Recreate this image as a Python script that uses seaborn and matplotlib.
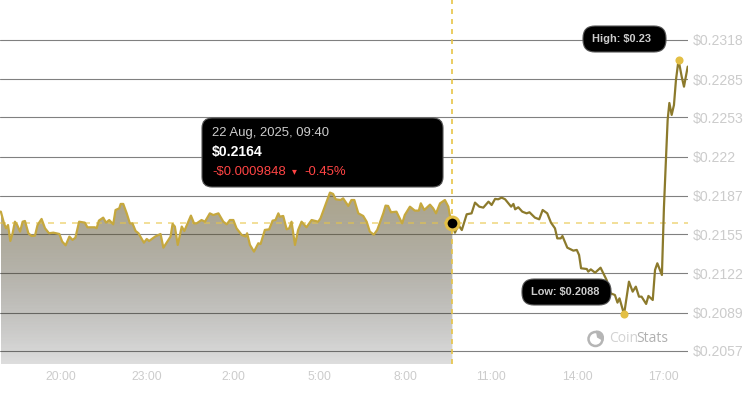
import numpy as np
import matplotlib
matplotlib.use('Agg')
import matplotlib.pyplot as plt
from matplotlib.patches import FancyBboxPatch, Wedge, Circle
import seaborn as sns

# hours counted from midnight of the first day (24 = 00:00 next day)
hours = [17.87, 17.90, 18.01, 18.08, 18.15, 18.23, 18.31, 18.39, 18.47, 18.57, 18.66, 18.74, 18.86, 18.97, 19.09, 19.18,
         19.32, 19.44, 19.58, 19.73, 19.94, 20.04, 20.16, 20.29, 20.40, 20.50, 20.63, 20.83, 20.92, 21.18, 21.24, 21.32,
         21.47, 21.57, 21.68, 21.82, 21.90, 22.03, 22.08, 22.17, 22.29, 22.40, 22.49, 22.60, 22.70, 22.89, 22.99, 23.07,
         23.28, 23.47, 23.57, 23.82, 23.89, 23.97, 24.07, 24.21, 24.30, 24.53, 24.64, 24.73, 24.90, 25.02, 25.19, 25.31,
         25.49, 25.66, 25.78, 25.89, 26.01, 26.12, 26.30, 26.44, 26.49, 26.59, 26.73, 26.88, 26.96, 27.11, 27.26, 27.38,
         27.48, 27.58, 27.63, 27.75, 27.87, 27.96, 28.04, 28.16, 28.27, 28.39, 28.56, 28.74, 28.97, 29.05, 29.38, 29.49,
         29.58, 29.75, 29.84, 30.02, 30.13, 30.23, 30.37, 30.54, 30.66, 30.77, 30.91, 31.03, 31.24, 31.32, 31.41, 31.51,
         31.70, 31.90, 31.99, 32.17, 32.34, 32.48, 32.55, 32.67, 32.87, 32.98, 33.08, 33.22, 33.39, 33.51, 33.56, 33.65,
         33.74, 33.86, 33.98, 34.15, 34.32, 34.44, 34.59, 34.73, 34.91, 35.02, 35.14, 35.25, 35.37, 35.49, 35.70, 35.78,
         35.84, 35.95, 36.09, 36.24, 36.34, 36.53, 36.68, 36.80, 36.96, 37.09, 37.23, 37.31, 37.43, 37.49, 37.66, 37.78,
         37.87, 37.99, 38.07, 38.14, 38.34, 38.39, 38.48, 38.63, 38.82, 39.03, 39.17, 39.32, 39.41, 39.48, 39.64, 39.81,
         39.94, 40.05, 40.16, 40.25, 40.41, 40.49, 40.64, 40.72, 40.80, 40.96, 41.03, 41.10, 41.16, 41.22, 41.30, 41.38,
         41.45, 41.54, 41.65, 41.73, 41.86]
prices = [.21738, .21738, .21640, .21599, .21626, .21492, .21557, .21654, .21626, .21571, .21654, .21660, .21557, .21534, .21537, .21626,
          .21677, .21599, .21557, .21562, .21551, .21487, .21456, .21529, .21501, .21520, .21654, .21646, .21607, .21607, .21599, .21663,
          .21688, .21646, .21668, .21632, .21752, .21766, .21803, .21803, .21724, .21640, .21640, .21576, .21557, .21478, .21509, .21492,
          .21529, .21551, .21436, .21529, .21635, .21613, .21459, .21613, .21576, .21705, .21640, .21640, .21668, .21654, .21724, .21710,
          .21724, .21654, .21632, .21668, .21668, .21599, .21543, .21529, .21557, .21459, .21403, .21473, .21467, .21585, .21590, .21663,
          .21668, .21724, .21696, .21702, .21590, .21599, .21654, .21459, .21585, .21654, .21607, .21668, .21654, .21682, .21898, .21887,
          .21842, .21836, .21850, .21786, .21836, .21836, .21724, .21702, .21654, .21571, .21545, .21585, .21724, .21789, .21786, .21733,
          .21738, .21640, .21710, .21780, .21747, .21747, .21808, .21752, .21797, .21766, .21724, .21808, .21836, .21780, .21710, .21646,
          .21562, .21626, .21584, .21716, .21724, .21814, .21780, .21772, .21822, .21794, .21845, .21842, .21856, .21842, .21780, .21803,
          .21758, .21775, .21738, .21724, .21733, .21688, .21674, .21752, .21724, .21646, .21598, .21514, .21514, .21534, .21436, .21422,
          .21411, .21417, .21375, .21263, .21257, .21235, .21254, .21226, .21268, .21165, .21053, .21039, .20975, .21011, .20877, .21151,
          .21067, .21109, .21025, .21025, .20964, .21031, .20997, .21249, .21305, .21207, .21769, .22172, .22508, .22650, .22550, .22633,
          .22843, .23011, .22871, .22787, .22955]

x_ticks = [20, 23, 26, 29, 32, 35, 38, 41]
x_labels = ['20:00', '23:00', '2:00', '5:00', '8:00', '11:00', '14:00', '17:00']
y_ticks = [.2318, .2285, .2253, .222, .2187, .2155, .2122, .2089, .2057]
y_labels = ['$0.2318', '$0.2285', '$0.2253', '$0.222', '$0.2187', '$0.2155', '$0.2122', '$0.2089', '$0.2057']

cursor_hour = 33.65
cursor_price = .21646
high_hour, high_price = 41.54, .23011
low_hour, low_price = 39.64, .20877

sns.set_style('white')
plt.rcParams['font.family'] = ['Liberation Sans', 'DejaVu Sans']

hours = np.array(hours)
prices = np.array(prices)
past = hours <= cursor_hour
future = hours >= cursor_hour

W, H = 750, 394
fig = plt.figure(figsize=(W / 100, H / 100), dpi=100, facecolor='white')
ax = fig.add_axes([0, 1 - 364 / H, 688 / W, 364 / H])
ax.set_xlim(17.87, 41.87)
ax.set_ylim(.20460, .23514)

# lineas horizontales
ax.set_axisbelow(True)
ax.grid(axis='y', color='#808080', lw=.8)
ax.grid(axis='x', visible=False)

# area con degradado
grad = np.zeros((256, 1, 4))
grad[:, 0, 0] = np.linspace(117, 0, 256) / 255
grad[:, 0, 1] = np.linspace(105, 0, 256) / 255
grad[:, 0, 2] = np.linspace(63, 0, 256) / 255
grad[:, 0, 3] = np.linspace(.6, .135, 256)
poly = ax.fill_between(hours[past], prices[past], .20460, color='none')
img = ax.imshow(grad, extent=[17.90, cursor_hour, .20460, .2190], aspect='auto', origin='upper', zorder=1.5)
img.set_clip_path(poly.get_paths()[0], ax.transData)
ax.set_xlim(17.87, 41.87)
ax.set_ylim(.20460, .23514)

ax.axhline(cursor_price, color='#e8c547', lw=1.2, ls=(0, (3.6, 3.6)), alpha=.65, zorder=2)
ax.axvline(cursor_hour, color='#e8c547', lw=1.2, ls=(0, (3, 3)), zorder=2)

sns.lineplot(x=hours[past], y=prices[past], ax=ax, color='#c6a83e', lw=1.6, estimator=None, sort=False, zorder=3)
sns.lineplot(x=hours[future], y=prices[future], ax=ax, color='#8c7a2c', lw=1.6, estimator=None, sort=False, zorder=3)

ax.scatter([high_hour, low_hour], [high_price, low_price], s=34, color='#e3bf45', zorder=4, linewidths=0)
ax.scatter([cursor_hour], [cursor_price], s=85, color='black', edgecolors='#e3bf45', linewidths=2.2, zorder=5)

ax.set_xticks(x_ticks, x_labels, color='#cccccc', fontsize=8.7)
ax.set_yticks(y_ticks, y_labels, color='#cccccc', fontsize=10.1)
ax.yaxis.tick_right()
ax.tick_params(axis='x', length=0, pad=5.2)
ax.tick_params(axis='y', length=0, pad=3.6)
sns.despine(ax=ax, left=True, right=True, top=True, bottom=True)

# capa en pixeles para globos y logo
ov = fig.add_axes([0, 0, 1, 1], zorder=10)
ov.set_xlim(0, W)
ov.set_ylim(H, 0)
ov.axis('off')


def box(x0, y0, x1, y1, r):
    ov.add_patch(FancyBboxPatch((x0 + r, y0 + r), x1 - x0 - 2 * r, y1 - y0 - 2 * r,
                                boxstyle='round,pad=%d,rounding_size=%d' % (r, r),
                                fc='black', ec='#555555', lw=.8))


box(202, 118, 443, 187, 10)
ov.text(212, 133, '22 Aug, 2025, 09:40', color='#cccccc', fontsize=9.45, va='center')
ov.text(212, 152, '$0.2164', color='white', fontsize=10.1, fontweight='bold', va='center')
ov.text(212, 172, '-$0.0009848', color='#ff4444', fontsize=9.45, va='center')
ov.text(294, 171, '▾', color='#ff4444', fontsize=7, va='center', ha='center', family=['DejaVu Sans'])
ov.text(304, 172, '-0.45%', color='#ff4444', fontsize=9.45, va='center')

box(583, 26, 666, 52, 12)
ov.text(621, 39, 'High: $0.23', color='#cccccc', fontsize=7.9, fontweight='bold', va='center', ha='center')
box(522, 279, 611, 305, 12)
ov.text(565, 292, 'Low: $0.2088', color='#cccccc', fontsize=7.9, fontweight='bold', va='center', ha='center')

# logo
ov.add_patch(Circle((595.5, 339), 7, fc='none', ec='#b5b5b5', lw=1.8))
ov.add_patch(Wedge((597, 337.5), 7, 260, 30, fc='#b5b5b5', ec='none'))
ov.text(609, 339, 'Coin', color='#d2d2d2', fontsize=10, va='center', family=['Open Sans', 'DejaVu Sans'])
ov.text(636, 339, 'Stats', color='#b0b0b0', fontsize=10, va='center', family=['Open Sans', 'DejaVu Sans'])

fig.savefig('out.png', dpi=100)
